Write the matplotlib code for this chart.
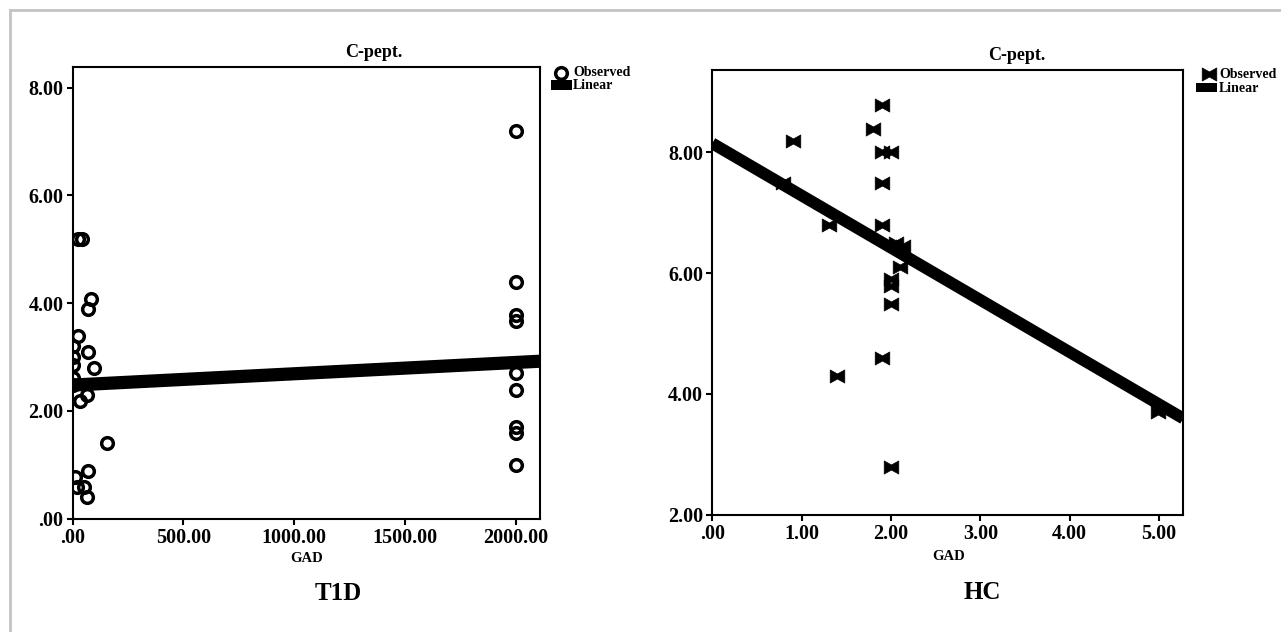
import numpy as np
import matplotlib
matplotlib.use("Agg")
import matplotlib.pyplot as plt
from matplotlib.path import Path
from matplotlib.patches import Rectangle
from matplotlib.lines import Line2D

# ---------------------------------
# Data
# ---------------------------------

# T1D panel: GAD vs C-peptide
t1d_gad = [25, 42, 84, 72, 24, 72, 99, 65, 35, 155, 72, 12, 20, 50, 65,
           0, 0, 0, 0, 0,
           2000, 2000, 2000, 2000, 2000, 2000, 2000, 2000, 2000]
t1d_cpep = [5.20, 5.20, 4.08, 3.89, 3.39, 3.10, 2.80, 2.30, 2.19, 1.41, 0.89, 0.78, 0.59, 0.59, 0.41,
            3.20, 3.00, 2.85, 2.62, 2.48,
            7.20, 4.40, 3.78, 3.67, 2.71, 2.39, 1.70, 1.59, 0.99]
t1d_fit = [2.48, 0.00021]          # intercept, slope of linear fit

# HC panel
hc_gad = [1.90, 1.80, 0.90, 1.90, 2.00, 1.90, 0.79, 1.31, 1.90, 2.06, 2.13,
          2.10, 2.00, 2.00, 2.00, 1.90, 1.40, 2.00, 4.99]
hc_cpep = [8.79, 8.38, 8.19, 8.00, 8.00, 7.49, 7.50, 6.79, 6.79, 6.50, 6.45,
           6.10, 5.90, 5.79, 5.49, 4.60, 4.29, 2.79, 3.70]
hc_fit = [8.15, -0.865]

t1d_xticks = [0, 500, 1000, 1500, 2000]
t1d_yticks = [0, 2, 4, 6, 8]
hc_xticks = [0, 1, 2, 3, 4, 5]
hc_yticks = [2, 4, 6, 8]


def fmt(v):
    s = f"{v:.2f}"
    return s[1:] if s.startswith("0") else s


plt.rcParams["font.family"] = ["Liberation Serif", "DejaVu Serif"]
plt.rcParams["font.weight"] = "bold"

fig = plt.figure(figsize=(12.81, 6.32), dpi=100)

# grey frame (top and left edges)
fig.add_artist(Line2D([10 / 1281, 1], [1 - 10 / 632, 1 - 10 / 632],
                      transform=fig.transFigure, color="#c4c4c4", lw=2))
fig.add_artist(Line2D([10 / 1281, 10 / 1281], [0, 1 - 10 / 632],
                      transform=fig.transFigure, color="#c4c4c4", lw=2))

bowtie = Path([(-1, -0.9), (-1, 0.9), (0, 0.35), (1, 0.9), (1, -0.9), (0, -0.35), (-1, -0.9)],
              [Path.MOVETO] + [Path.LINETO] * 5 + [Path.CLOSEPOLY])

circle_kw = dict(marker="o", ms=8.4, mew=2.5, mfc="none", mec="black", ls="none")
bow_kw = dict(marker=bowtie, ms=10.5, mew=0.5, mfc="black", mec="black", ls="none")


def style_axes(ax, xticks, yticks):
    for s in ax.spines.values():
        s.set_linewidth(1.5)
    ax.set_xticks(xticks)
    ax.set_yticks(yticks)
    ax.set_xticklabels([fmt(v) for v in xticks])
    ax.set_yticklabels([fmt(v) for v in yticks])
    ax.tick_params(direction="out", length=4.5, width=1.5, labelsize=14.5, pad=2)


def legend(ax, kw, mx, my, rect, tx, ty):
    ax.plot([mx], [my], transform=ax.transAxes, clip_on=False, **kw)
    ax.add_patch(Rectangle((rect[0], rect[1]), rect[2], rect[3], transform=ax.transAxes,
                           facecolor="black", edgecolor="none", clip_on=False))
    ax.text(tx, ty[0], "Observed", transform=ax.transAxes, fontsize=10,
            fontweight="bold", va="center", ha="left")
    ax.text(tx, ty[1], "Linear", transform=ax.transAxes, fontsize=10,
            fontweight="bold", va="center", ha="left")


# ---------------------------------
# Left: T1D
# ---------------------------------

ax1 = fig.add_axes([0.0566, 0.1793, 0.3646, 0.7152])
ax1.plot(t1d_gad, t1d_cpep, zorder=2, **circle_kw)
xx = np.array([0, 2106])
ax1.plot(xx, t1d_fit[0] + t1d_fit[1] * xx, color="black", lw=9.5,
         solid_capstyle="butt", zorder=3)
ax1.set_xlim(0, 2106)
ax1.set_ylim(0, 8.39)
style_axes(ax1, t1d_xticks, t1d_yticks)
ax1.text(0.646, 1.032, "C-pept.", transform=ax1.transAxes, ha="center", va="center",
         fontsize=13, fontweight="bold")
ax1.text(0.502, -0.089, "GAD", transform=ax1.transAxes, ha="center", va="center",
         fontsize=10.5, fontweight="bold")
ax1.text(0.569, -0.166, "T1D", transform=ax1.transAxes, ha="center", va="center",
         fontsize=18, fontweight="bold")
legend(ax1, circle_kw, 1.0458, 0.9854, (1.0238, 0.9485, 0.045, 0.0221),
       1.0717, (0.988, 0.958))

# ---------------------------------
# Right: HC
# ---------------------------------

ax2 = fig.add_axes([0.5560, 0.1859, 0.3677, 0.7038])
ax2.plot(hc_gad, hc_cpep, zorder=2, **bow_kw)
xx = np.array([0, 5.27])
ax2.plot(xx, hc_fit[0] + hc_fit[1] * xx, color="black", lw=8.5,
         solid_capstyle="butt", zorder=3)
ax2.set_xlim(0, 5.27)
ax2.set_ylim(2, 9.37)
style_axes(ax2, hc_xticks, hc_yticks)
ax2.text(0.647, 1.033, "C-pept.", transform=ax2.transAxes, ha="center", va="center",
         fontsize=13, fontweight="bold")
ax2.text(0.501, -0.094, "GAD", transform=ax2.transAxes, ha="center", va="center",
         fontsize=10.5, fontweight="bold")
ax2.text(0.573, -0.176, "HC", transform=ax2.transAxes, ha="center", va="center",
         fontsize=18, fontweight="bold")
legend(ax2, bow_kw, 1.0546, 0.9903, (1.0264, 0.9499, 0.0452, 0.0202),
       1.076, (0.990, 0.957))

fig.savefig("out.png", dpi=100)
plt.close(fig)
